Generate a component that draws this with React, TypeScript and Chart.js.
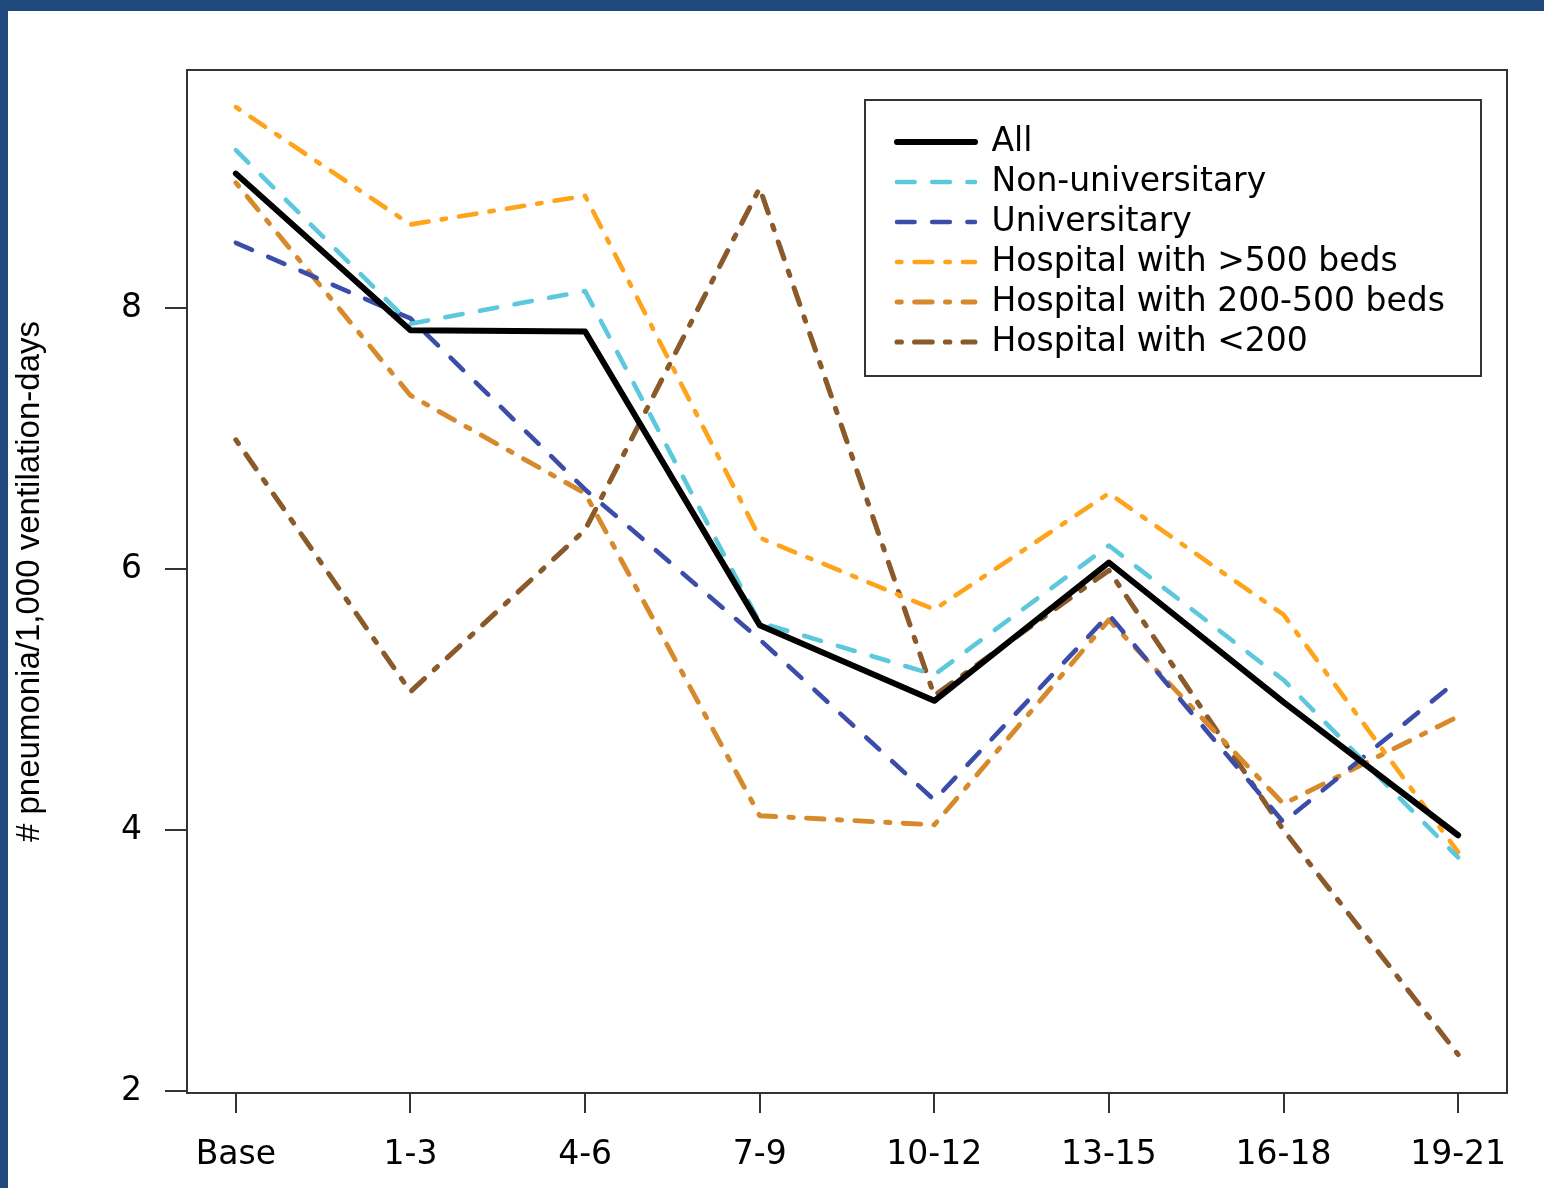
import React, { useEffect, useRef } from 'react';
import { Chart, registerables } from 'chart.js';

Chart.register(...registerables);

// ---- data ----
const CATEGORIES = ['Base', '1-3', '4-6', '7-9', '10-12', '13-15', '16-18', '19-21'];
const ALL = [9.03, 7.83, 7.82, 5.57, 4.99, 6.05, 4.98, 3.96];
const NON_UNIVERSITARY = [9.21, 7.88, 8.13, 5.59, 5.19, 6.18, 5.15, 3.79];
const UNIVERSITARY = [8.5, 7.92, 6.61, 5.46, 4.23, 5.65, 4.06, 5.15];
const HOSP_GT500 = [9.54, 8.64, 8.86, 6.24, 5.69, 6.58, 5.65, 3.83];
const HOSP_200_500 = [8.96, 7.33, 6.58, 4.11, 4.04, 5.61, 4.2, 4.87];
const HOSP_LT200 = [6.99, 5.06, 6.3, 8.92, 5.03, 5.99, 4.0, 2.28];
const SERIES_LABELS = [
  'All',
  'Non-universitary',
  'Universitary',
  'Hospital with >500 beds',
  'Hospital with 200-500 beds',
  'Hospital with <200',
];
const Y_TICKS = [2, 4, 6, 8];
const Y_RANGE = [1.985, 9.824];
const X_RANGE = [-0.28, 7.28];
const Y_TITLE = '# pneumonia/1,000 ventilation-days';

// ---- styles ----
const DASHED = [17.6, 17.6];
const DOTDASH = [4.4, 13.2, 17.6, 13.2];
const TICK_FONT = { family: 'DejaVu Sans', size: 33 };
const AXIS_COLOR = '#333333';

const toPoints = (arr: number[]) => arr.map((v, i) => ({ x: i, y: v }));

const legendPlacer = {
  id: 'legendPlacer',
  afterLayout(chart: any) {
    const L = chart.legend;
    const ca = chart.chartArea;
    if (!L || !ca) return;
    const frameLeft = ca.right - 26 - 616;
    const frameTop = ca.top + 30;
    L.left = frameLeft + 25;
    L.top = frameTop + 18.5;
    L.right = L.left + 600;
    L.bottom = L.top + 400;
    L.width = 600;
    L.height = 400;
  },
  afterDraw(chart: any) {
    const ca = chart.chartArea;
    const ctx = chart.ctx;
    ctx.save();
    ctx.strokeStyle = AXIS_COLOR;
    ctx.lineWidth = 2;
    ctx.setLineDash([]);
    // plot frame
    ctx.strokeRect(ca.left, ca.top, ca.width, ca.height);
    // legend frame
    ctx.strokeRect(ca.right - 26 - 616, ca.top + 30, 616, 276);
    ctx.restore();
  },
};

export default function App() {
  const ref = useRef<HTMLCanvasElement>(null);

  useEffect(() => {
    const canvas = ref.current;
    if (!canvas) return;
    const common = {
      pointRadius: 0,
      pointHoverRadius: 0,
      pointHitRadius: 0,
      pointStyle: 'line',
      tension: 0,
      fill: false,
      borderCapStyle: 'round',
      borderJoinStyle: 'round',
    };
    const chart = new Chart(canvas, {
      type: 'line',
      data: {
        datasets: [
          { ...common, label: SERIES_LABELS[0], data: toPoints(ALL), borderColor: '#000000', backgroundColor: '#000000', borderWidth: 6, borderDash: [] },
          { ...common, label: SERIES_LABELS[1], data: toPoints(NON_UNIVERSITARY), borderColor: '#5CC8DD', backgroundColor: '#5CC8DD', borderWidth: 4.6, borderDash: DASHED },
          { ...common, label: SERIES_LABELS[2], data: toPoints(UNIVERSITARY), borderColor: '#3B4DA8', backgroundColor: '#3B4DA8', borderWidth: 4.6, borderDash: DASHED },
          { ...common, label: SERIES_LABELS[3], data: toPoints(HOSP_GT500), borderColor: '#FFA31A', backgroundColor: '#FFA31A', borderWidth: 4.6, borderDash: DOTDASH },
          { ...common, label: SERIES_LABELS[4], data: toPoints(HOSP_200_500), borderColor: '#D68A2C', backgroundColor: '#D68A2C', borderWidth: 4.9, borderDash: DOTDASH },
          { ...common, label: SERIES_LABELS[5], data: toPoints(HOSP_LT200), borderColor: '#8B5A2B', backgroundColor: '#8B5A2B', borderWidth: 5.1, borderDash: DOTDASH },
        ] as any,
      },
      options: {
        responsive: false,
        animation: false,
        devicePixelRatio: 1,
        events: [],
        layout: { padding: { top: 70, right: 37, bottom: 0, left: 0 } },
        scales: {
          x: {
            type: 'linear',
            min: X_RANGE[0],
            max: X_RANGE[1],
            bounds: 'data',
            afterBuildTicks: (s: any) => {
              s.ticks = CATEGORIES.map((_, i) => ({ value: i }));
            },
            afterFit: (s: any) => {
              s.height = 95;
            },
            grid: { display: true, drawOnChartArea: false, drawTicks: true, tickLength: 20, color: AXIS_COLOR, lineWidth: 2 },
            border: { display: false },
            ticks: {
              autoSkip: false,
              maxRotation: 0,
              minRotation: 0,
              padding: 23,
              color: '#000000',
              font: TICK_FONT,
              callback: (v: any) => CATEGORIES[Math.round(Number(v))] ?? '',
            },
          },
          y: {
            type: 'linear',
            min: Y_RANGE[0],
            max: Y_RANGE[1],
            bounds: 'data',
            afterBuildTicks: (s: any) => {
              s.ticks = Y_TICKS.map((v) => ({ value: v }));
            },
            afterFit: (s: any) => {
              s.width = 187;
            },
            grid: { display: true, drawOnChartArea: false, drawTicks: true, tickLength: 22, color: AXIS_COLOR, lineWidth: 2 },
            border: { display: false },
            ticks: { padding: 23, color: '#000000', font: TICK_FONT },
            title: {
              display: true,
              text: Y_TITLE,
              color: '#000000',
              font: { family: 'Liberation Sans', size: 33 },
              padding: { top: 10, bottom: 0 },
            },
          },
        },
        plugins: {
          tooltip: { enabled: false },
          legend: {
            display: true,
            position: 'chartArea',
            fullSize: false,
            align: 'start',
            labels: {
              usePointStyle: true,
              pointStyleWidth: 78,
              padding: 7,
              color: '#000000',
              font: { family: 'DejaVu Sans', size: 33 },
              generateLabels: (c: any) =>
                c.data.datasets.map((ds: any, i: number) => ({
                  text: ds.label,
                  fillStyle: ds.borderColor,
                  strokeStyle: ds.borderColor,
                  fontColor: '#000000',
                  lineWidth: ds.borderWidth,
                  lineDash: ds.borderDash || [],
                  lineDashOffset: 0,
                  lineCap: 'round',
                  lineJoin: 'round',
                  pointStyle: 'line',
                  rotation: 0,
                  hidden: false,
                  datasetIndex: i,
                })),
            },
          },
        },
      } as any,
      plugins: [legendPlacer],
    });
    return () => chart.destroy();
  }, []);

  return (
    <div style={{ position: 'absolute', left: 0, top: 0, width: 1544, height: 1188, background: '#ffffff', overflow: 'hidden' }}>
      <canvas
        ref={ref}
        width={1544}
        height={1188}
        style={{ position: 'absolute', left: 0, top: 0, width: 1544, height: 1188 }}
      />
      <div style={{ position: 'absolute', left: 0, top: 0, width: 1544, height: 11, background: '#1F497D' }} />
      <div style={{ position: 'absolute', left: 0, top: 0, width: 8, height: 1188, background: '#1F497D' }} />
    </div>
  );
}
